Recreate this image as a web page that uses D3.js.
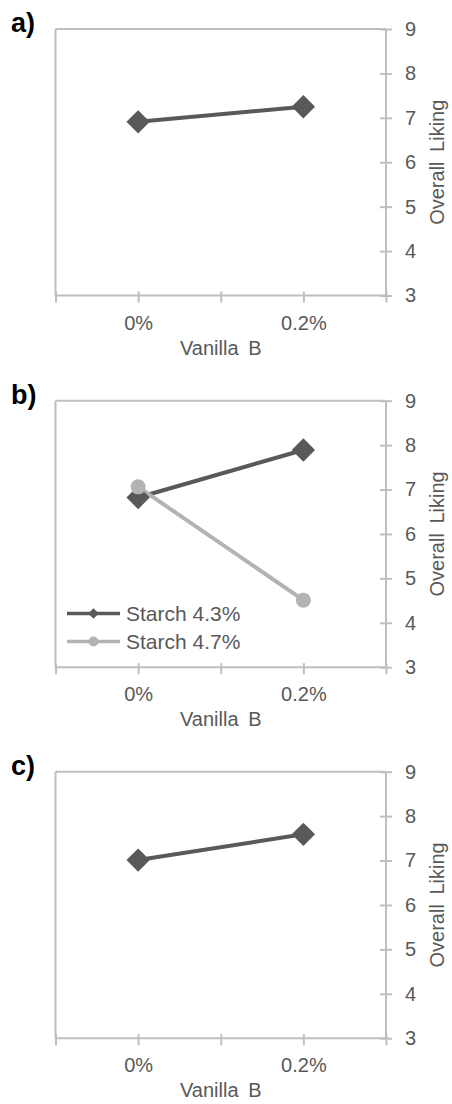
<!DOCTYPE html>
<html>
<head>
<meta charset="utf-8">
<script src="https://cdn.jsdelivr.net/npm/d3@7"></script>
<style>
  html, body { margin: 0; padding: 0; background: #fff; }
  svg { display: block; font-family: "Liberation Sans", Arial, sans-serif; }
</style>
</head>
<body>
<svg id="chart" width="452" height="1104"></svg>
<script>
// ---- data ----
const xValues = [0, 0.2];
const categories = ["0%", "0.2%"];
const xTickValues = [-0.1, 0, 0.1, 0.2, 0.3];
const yTicks = [3, 4, 5, 6, 7, 8, 9];
const panelLabels = ["a)", "b)", "c)"];
const seriesNames = ["Starch 4.3%", "Starch 4.7%"];
const panelA = [6.91, 7.25];
const panelBStarch43 = [6.82, 7.89];
const panelBStarch47 = [7.06, 4.51];
const panelC = [7.01, 7.59];
const xTitle = "Vanilla B";
const yTitle = "Overall Liking";

// ---- layout ----
const svg = d3.select("#chart");
const left = 55.5, right = 386, plotH = 266.5;
const tops = [29, 400.7, 771.7];
const textCol = "#595959";
const axisCol = "#bfbfbf";
const darkCol = "#595959";
const lightCol = "#b3b3b3";

const x = d3.scaleLinear().domain([-0.1, 0.3]).range([left, right]);

const panels = [
  { label: panelLabels[0], series: [{ values: panelA, color: darkCol, marker: "diamond" }], legend: false },
  { label: panelLabels[1], series: [
      { values: panelBStarch43, color: darkCol, marker: "diamond", name: seriesNames[0] },
      { values: panelBStarch47, color: lightCol, marker: "circle", name: seriesNames[1] }
    ], legend: true },
  { label: panelLabels[2], series: [{ values: panelC, color: darkCol, marker: "diamond" }], legend: false }
];

function marker(g, type, cx, cy, color, size) {
  if (type === "diamond") {
    g.append("path")
      .attr("d", d3.symbol().type(d3.symbolSquare).size(size * size)())
      .attr("transform", `translate(${cx},${cy}) rotate(45)`)
      .attr("fill", color);
  } else {
    g.append("circle").attr("cx", cx).attr("cy", cy).attr("r", size / 2).attr("fill", color);
  }
}

panels.forEach((p, i) => {
  const top = tops[i];
  const bottom = top + plotH;
  const y = d3.scaleLinear().domain([3, 9]).range([bottom, top]);
  const g = svg.append("g");

  // plot border (top & left)
  g.append("line").attr("x1", left).attr("x2", right).attr("y1", top).attr("y2", top)
    .attr("stroke", axisCol).attr("stroke-width", 2);
  g.append("line").attr("x1", left).attr("x2", left).attr("y1", top).attr("y2", bottom)
    .attr("stroke", axisCol).attr("stroke-width", 2);

  // right value axis
  const yAxis = d3.axisRight(y).tickValues(yTicks).tickSize(6).tickPadding(13).tickFormat(d3.format("d"));
  const ya = g.append("g").attr("transform", `translate(${right},0)`).call(yAxis);
  ya.select(".domain").attr("stroke", axisCol).attr("stroke-width", 2).attr("d", `M0,${top}V${bottom}`);
  ya.selectAll(".tick line").attr("stroke", axisCol).attr("stroke-width", 2).attr("x1", -6).attr("x2", 6);
  ya.selectAll(".tick text").attr("fill", textCol).style("font-size", "20px")
    .style("font-family", "'Liberation Sans', Arial, sans-serif");

  // bottom category axis
  const xAxis = d3.axisBottom(x).tickValues(xTickValues).tickSize(7)
    .tickFormat(d => { const k = xValues.findIndex(v => Math.abs(v - d) < 1e-9); return k >= 0 ? categories[k] : ""; });
  const xa = g.append("g").attr("transform", `translate(0,${bottom})`).call(xAxis);
  xa.select(".domain").attr("stroke", axisCol).attr("stroke-width", 2).attr("d", `M${left},0H${right}`);
  xa.selectAll(".tick line").attr("stroke", axisCol).attr("stroke-width", 2).attr("y1", -4).attr("y2", 7);
  xa.selectAll(".tick text").attr("fill", textCol).style("font-size", "20px")
    .style("font-family", "'Liberation Sans', Arial, sans-serif")
    .attr("y", 34).attr("dy", 0);

  // axis titles
  g.append("text").attr("x", (left + right) / 2).attr("y", bottom + 59)
    .attr("text-anchor", "middle").attr("fill", textCol).style("font-size", "20px")
    .style("word-spacing", "4px").text(xTitle);
  g.append("text")
    .attr("transform", `translate(444,${(top + bottom) / 2}) rotate(-90)`)
    .attr("text-anchor", "middle").attr("fill", textCol).style("font-size", "20px")
    .style("word-spacing", "4px").text(yTitle);

  // panel label
  g.append("text").attr("x", 11).attr("y", top + 3).attr("fill", "#000")
    .style("font-size", "27px").style("font-weight", "bold").text(p.label);

  // series
  const line = d3.line().x((d, k) => x(xValues[k])).y(d => y(d));
  p.series.forEach(s => {
    g.append("path").datum(s.values).attr("d", line).attr("fill", "none")
      .attr("stroke", s.color).attr("stroke-width", 4);
  });
  p.series.forEach(s => {
    s.values.forEach((v, k) => {
      marker(g, s.marker, x(xValues[k]), y(v), s.color, s.marker === "diamond" ? 16.5 : 15);
    });
  });

  // legend
  if (p.legend) {
    const lx0 = 67, lx1 = 120, ly = [613.5, 641.5];
    p.series.forEach((s, k) => {
      g.append("line").attr("x1", lx0).attr("x2", lx1).attr("y1", ly[k]).attr("y2", ly[k])
        .attr("stroke", s.color).attr("stroke-width", 3.5);
      marker(g, s.marker, (lx0 + lx1) / 2, ly[k], s.color, s.marker === "diamond" ? 7.5 : 10);
      g.append("text").attr("x", 126).attr("y", ly[k]).attr("dy", "0.35em")
        .attr("fill", textCol).style("font-size", "21px").text(s.name);
    });
  }
});
</script>
</body>
</html>
